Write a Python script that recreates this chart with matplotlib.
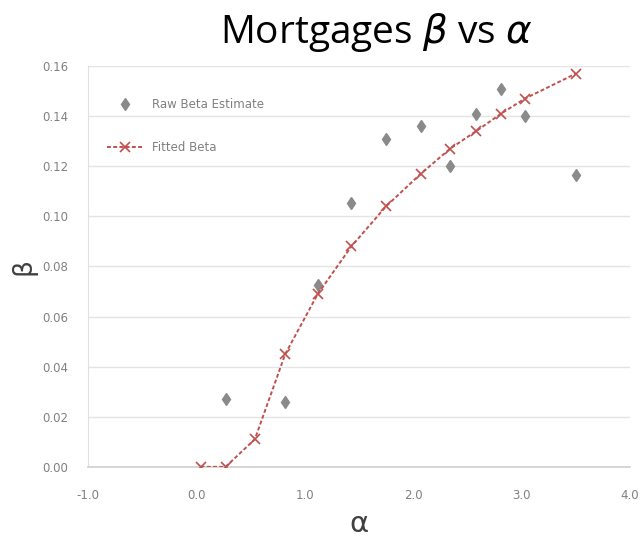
import matplotlib.pyplot as plt

# fitted curve and raw estimates, beta against alpha
alpha_fit = [0.04, 0.27, 0.54, 0.82, 1.12, 1.43, 1.75, 2.07, 2.34, 2.58, 2.81, 3.03, 3.50]
beta_fit = [0.000, 0.000, 0.011, 0.045, 0.069, 0.088, 0.104, 0.117, 0.127, 0.134, 0.141, 0.147, 0.157]

alpha_raw = [0.27, 0.82, 1.12, 1.43, 1.75, 2.07, 2.34, 2.58, 2.81, 3.03, 3.50]
beta_raw = [0.027, 0.026, 0.0725, 0.1055, 0.131, 0.136, 0.120, 0.141, 0.151, 0.140, 0.1165]

x_ticks = [-1.0, 0.0, 1.0, 2.0, 3.0, 4.0]
y_ticks = [0.00, 0.02, 0.04, 0.06, 0.08, 0.10, 0.12, 0.14, 0.16]

grey = '#8a8a8a'
red = '#c0504d'

fig = plt.figure(figsize=(6.41, 5.46), dpi=100)
ax = fig.add_axes([0.137, 0.145, 0.846, 0.734])

ax.plot(alpha_raw, beta_raw, linestyle='none', marker='d', markersize=6.5,
        color=grey, label='Raw Beta Estimate', zorder=3)
ax.plot(alpha_fit, beta_fit, linestyle=(0, (2.0, 1.2)), lw=1.4, color=red,
        marker='x', markersize=7, markeredgewidth=1.2, label='Fitted Beta', zorder=4)

ax.set_xlim(-1.0, 4.0)
ax.set_ylim(0.0, 0.16)
ax.set_xticks(x_ticks)
ax.set_yticks(y_ticks)
ax.set_xticklabels(['%.1f' % v for v in x_ticks])
ax.set_yticklabels(['%.2f' % v for v in y_ticks])
ax.tick_params(length=0, labelsize=8.5, labelcolor='#808080')
ax.tick_params(axis='x', pad=16)
ax.tick_params(axis='y', pad=14)

ax.grid(axis='y', color='#e4e4e4', lw=1)
ax.set_axisbelow(True)
for side in ['top', 'right']:
    ax.spines[side].set_visible(False)
ax.spines['left'].set_color('#e0e0e0')
ax.spines['bottom'].set_color('#d0d0d0')
ax.spines['bottom'].set_linewidth(1.2)

ax.set_xlabel(r'$\mathregular{\alpha}$', fontsize=21, color='#404040', labelpad=6)
ax.set_ylabel('β', fontsize=19, color='#404040', labelpad=4)

fig.suptitle(r'Mortgages $\beta$ vs $\alpha$', fontsize=28, x=0.587, y=0.98,
             family='Open Sans')

leg = ax.legend(loc='upper left', bbox_to_anchor=(0.01, 0.955), frameon=False,
                fontsize=8.5, labelcolor='#808080', handlelength=3.0,
                labelspacing=2.55, borderaxespad=0.8)

fig.savefig('out.png', dpi=100)
